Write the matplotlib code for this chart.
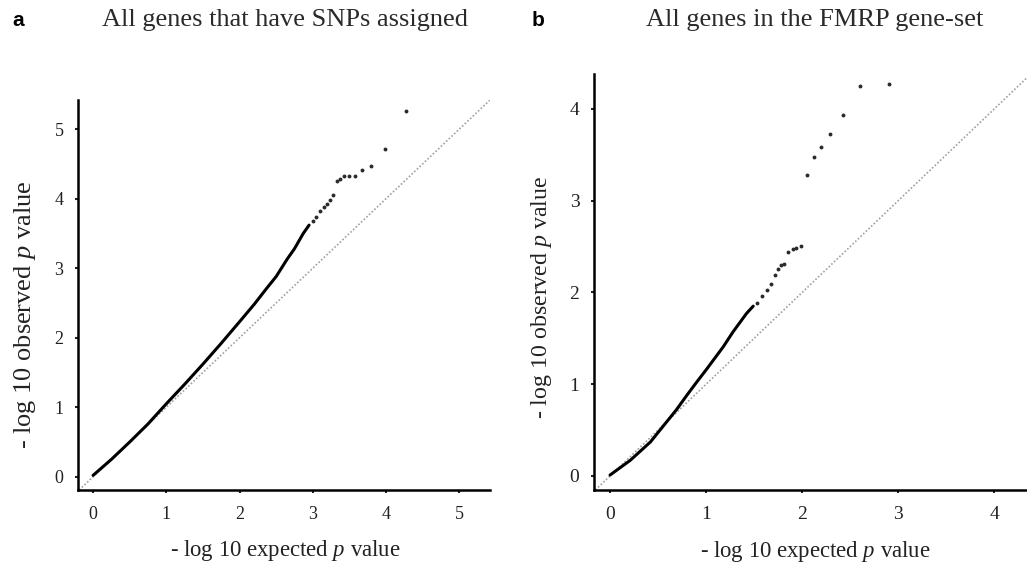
import matplotlib.pyplot as plt

# 数据准备
# panel a: all genes that have SNPs assigned
a_line_x = [0.00, 0.25, 0.50, 0.75, 1.00, 1.25, 1.50, 1.75, 2.00, 2.20, 2.37, 2.50, 2.65, 2.75, 2.87, 2.95]
a_line_y = [0.02, 0.25, 0.50, 0.76, 1.05, 1.33, 1.62, 1.92, 2.23, 2.48, 2.71, 2.88, 3.13, 3.28, 3.50, 3.62]
a_tail_x = [3.00, 3.05, 3.10, 3.15, 3.20, 3.24, 3.27, 3.33, 3.37, 3.43, 3.50, 3.58, 3.67, 3.80, 3.98, 4.28]
a_tail_y = [3.68, 3.74, 3.82, 3.88, 3.93, 3.98, 4.05, 4.26, 4.28, 4.33, 4.32, 4.33, 4.41, 4.47, 4.72, 5.26]

# panel b: all genes in the FMRP gene-set
b_line_x = [0.00, 0.21, 0.42, 0.52, 0.69, 0.80, 0.90, 1.01, 1.18, 1.28, 1.42, 1.49]
b_line_y = [0.01, 0.17, 0.37, 0.50, 0.72, 0.88, 1.02, 1.17, 1.41, 1.57, 1.77, 1.85]
b_tail_x = [1.53, 1.58, 1.63, 1.68, 1.72, 1.75, 1.78, 1.81, 1.85, 1.90, 1.94, 1.99,
            2.05, 2.12, 2.20, 2.29, 2.42, 2.60, 2.90]
b_tail_y = [1.88, 1.96, 2.03, 2.09, 2.19, 2.25, 2.30, 2.31, 2.44, 2.47, 2.48, 2.51,
            3.28, 3.47, 3.58, 3.73, 3.93, 4.25, 4.27]

a_ticks = [0, 1, 2, 3, 4, 5]
b_ticks = [0, 1, 2, 3, 4]

plt.rcParams['font.family'] = ['Liberation Serif', 'DejaVu Serif']
plt.rcParams['mathtext.fontset'] = 'custom'
plt.rcParams['mathtext.rm'] = 'Liberation Serif'
plt.rcParams['mathtext.it'] = 'Liberation Serif:italic'

fig = plt.figure(figsize=(10.27, 5.63), dpi=100)
ax1 = fig.add_axes([0.0760, 0.1297, 0.4011, 0.6927])
ax2 = fig.add_axes([0.5784, 0.1297, 0.4216, 0.7389])

# ax, line, tail, ticks, xlim, ylim, ylabel pos, xlabel pos, tick size, ylabel size, xlabel size
panels = [
    (ax1, a_line_x, a_line_y, a_tail_x, a_tail_y, a_ticks, (-0.205, 5.42), (-0.19, 5.42),
     (-0.129, 0.449), (0.504, -0.156), 13, 19, 16.4),
    (ax2, b_line_x, b_line_y, b_tail_x, b_tail_y, b_ticks, (-0.167, 4.34), (-0.153, 4.38),
     (-0.122, 0.464), (0.51, -0.147), 14, 17.2, 16.4),
]

for ax, lx, ly, tx, ty, ticks, xl, yl, ylab_pos, xlab_pos, tsz, ysz, xsz in panels:
    # 对角参考线
    ax.axline((0, 0), slope=1, color='#a0a0a0', lw=1.2, linestyle=(0, (1, 1.2)), zorder=1)
    ax.plot(lx, ly, color='black', lw=2.2, solid_capstyle='round', zorder=3)
    ax.plot(tx, ty, 'o', color='#2a2a2a', markersize=2.8, markeredgewidth=0, zorder=3)

    ax.set_xlim(*xl)
    ax.set_ylim(*yl)
    ax.set_xticks(ticks)
    ax.set_yticks(ticks)
    ax.spines['top'].set_visible(False)
    ax.spines['right'].set_visible(False)
    ax.spines['left'].set_linewidth(1.8)
    ax.spines['bottom'].set_linewidth(1.8)
    ax.tick_params(axis='both', direction='out', length=2.5, width=1.5, labelsize=tsz, colors='#222222')
    ax.tick_params(axis='x', pad=9)
    ax.tick_params(axis='y', pad=8)

    ax.set_ylabel('- log 10 observed $\\it{p}$ value', fontsize=ysz, color='#222222', va='center')
    ax.yaxis.set_label_coords(*ylab_pos)
    ax.set_xlabel('- log 10 expected $\\it{p}$ value', fontsize=xsz, color='#222222', va='center')
    ax.xaxis.set_label_coords(*xlab_pos)

# 添加标题
fig.text(285 / 1027, 1 - 20 / 563, 'All genes that have SNPs assigned', ha='center', va='center',
         fontsize=19, color='#2a2a2a')
fig.text(815 / 1027, 1 - 20 / 563, 'All genes in the FMRP gene-set', ha='center', va='center',
         fontsize=19, color='#2a2a2a')
fig.text(18 / 1027, 1 - 20 / 563, 'a', ha='center', va='center', fontsize=15,
         fontweight='bold', family='Liberation Sans')
fig.text(538 / 1027, 1 - 20 / 563, 'b', ha='center', va='center', fontsize=15,
         fontweight='bold', family='Liberation Sans')

plt.savefig('out.png', dpi=100)
